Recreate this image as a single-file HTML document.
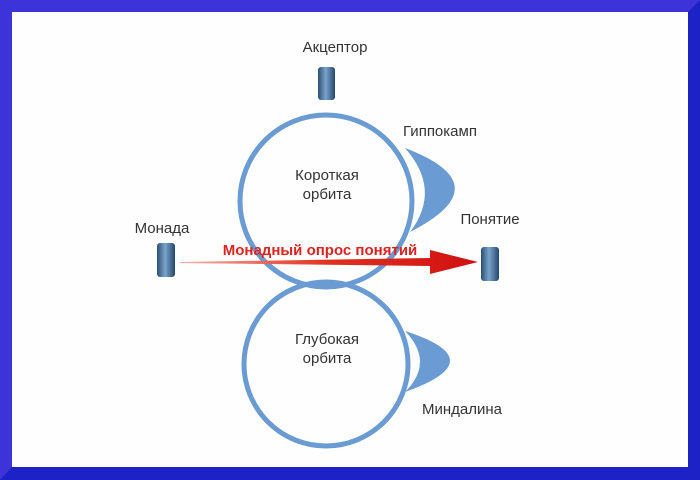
<!DOCTYPE html>
<html><head><meta charset="utf-8"><style>
html,body{margin:0;padding:0}
body{width:700px;height:480px;overflow:hidden;background:#1c22c6}
</style></head><body>
<svg width="700" height="480" xmlns="http://www.w3.org/2000/svg" style="display:block">
<defs>
<linearGradient id="cyl" x1="0" x2="1" y1="0" y2="0">
<stop offset="0" stop-color="#2c4e70"/><stop offset="0.45" stop-color="#7aa4cc"/><stop offset="1" stop-color="#24476a"/>
</linearGradient>
<linearGradient id="arr" x1="0" x2="1">
<stop offset="0" stop-color="#f4b0a8"/><stop offset="0.5" stop-color="#e03020"/><stop offset="1" stop-color="#d01010"/>
</linearGradient>
</defs>
<polygon points="0,0 700,0 688,12 12,12 12,467 0,480" fill="#3c33d8"/>
<rect x="12" y="12" width="676" height="455" fill="#fdfefd"/>
<g font-family="Liberation Sans, sans-serif" font-size="15" fill="#333">
<text x="335" y="52" text-anchor="middle">Акцептор</text>
<text x="440" y="136" text-anchor="middle">Гиппокамп</text>
<text x="162" y="233" text-anchor="middle">Монада</text>
<text x="490" y="224" text-anchor="middle">Понятие</text>
<text x="462" y="414" text-anchor="middle">Миндалина</text>
<text x="327" y="180" text-anchor="middle">Короткая</text>
<text x="327" y="199" text-anchor="middle">орбита</text>
<text x="327" y="344" text-anchor="middle">Глубокая</text>
<text x="327" y="363" text-anchor="middle">орбита</text>
</g>
<path d="M405,148 Q502,185 410,232 Q442,190 405,148 Z" fill="#6a9bd2"/>
<path d="M405,331 Q495,360 405,392 Q435,362 405,331 Z" fill="#6a9bd2"/>
<circle cx="326" cy="201" r="86" fill="none" stroke="#6a9bd2" stroke-width="5"/>
<circle cx="326" cy="364" r="82" fill="none" stroke="#6a9bd2" stroke-width="5"/>
<path d="M180,262 L430,258 L430,250 L478,262 L430,274 L430,266 L180,263 Z" fill="url(#arr)"/>
<text x="320" y="255" text-anchor="middle" font-family="Liberation Sans, sans-serif" font-size="15" font-weight="bold" fill="#dd2222">Монадный опрос понятий</text>
<g fill="url(#cyl)">
<rect x="318" y="67" width="17" height="33" rx="3"/>
<rect x="157" y="243" width="18" height="34" rx="3"/>
<rect x="481" y="247" width="18" height="34" rx="3"/>
</g>
</svg>
</body></html>
